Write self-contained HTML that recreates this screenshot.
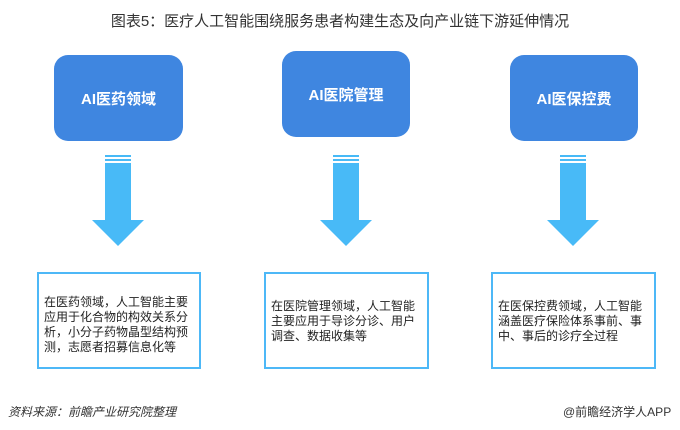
<!DOCTYPE html><html><head><meta charset="utf-8"><style>
body{margin:0;width:680px;height:430px;background:#fff;position:relative;overflow:hidden;font-family:"Liberation Sans","Noto Sans CJK SC",sans-serif}
.a{position:absolute}
.title{left:0;width:680px;top:10px;text-align:center;font-size:15px;color:#333}
.b{background:#3f86e0;border-radius:14px;color:#fff;font-weight:bold;font-size:15px;display:flex;align-items:center;justify-content:center}
.t{border:2px solid #4db8f7;box-sizing:border-box;font-size:12px;line-height:15px;color:#222;padding:21px 0 0 5px}
</style></head><body>
<div class="a title">图表5：医疗人工智能围绕服务患者构建生态及向产业链下游延伸情况</div>
<div class="a b" style="left:54px;top:55px;width:129px;height:86px">AI医药领域</div>
<div class="a b" style="left:282px;top:51px;width:128px;height:86px">AI医院管理</div>
<div class="a b" style="left:510px;top:55px;width:128px;height:86px">AI医保控费</div>
<svg class="a" style="left:0;top:0" width="680" height="430">
<g fill="#48baf7">
<g id="ar"><rect x="105" y="155" width="26" height="2"/><rect x="105" y="159" width="26" height="2"/><rect x="105" y="163" width="26" height="58"/><polygon points="92,220 144,220 118,246"/></g>
<use href="#ar" x="228"/><use href="#ar" x="455"/>
</g></svg>
<div class="a t" style="left:37px;top:272px;width:164px;height:97px">在医药领域，人工智能主要<br>应用于化合物的构效关系分<br>析，小分子药物晶型结构预<br>测，志愿者招募信息化等</div>
<div class="a t" style="left:264px;top:272px;width:165px;height:97px;padding-top:25px">在医院管理领域，人工智能<br>主要应用于导诊分诊、用户<br>调查、数据收集等</div>
<div class="a t" style="left:491px;top:272px;width:165px;height:97px;padding-top:25px">在医保控费领域，人工智能<br>涵盖医疗保险体系事前、事<br>中、事后的诊疗全过程</div>
<div class="a" style="left:8px;top:403px;font-size:12px;font-style:italic;color:#333">资料来源：前瞻产业研究院整理</div>
<div class="a" style="left:563px;top:403px;font-size:12px;color:#333">@前瞻经济学人APP</div>
</body></html>
